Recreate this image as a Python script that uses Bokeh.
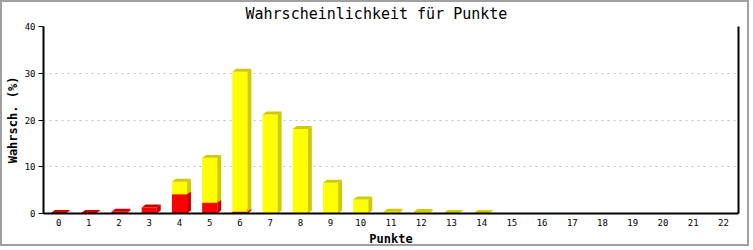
from bokeh.plotting import figure
from bokeh.models import LinearAxis, FixedTicker, Range1d
from bokeh.embed import file_html
from bokeh.resources import INLINE

# ---- data ----
punkte = ["0", "1", "2", "3", "4", "5", "6", "7", "8", "9", "10", "11",
          "12", "13", "14", "15", "16", "17", "18", "19", "20", "21", "22"]
rot = [0.1, 0.1, 0.4, 1.3, 4.1, 2.3, 0.4, 0, 0, 0, 0, 0,
       0, 0, 0, 0, 0, 0, 0, 0, 0, 0, 0]
gelb = [0, 0, 0, 0, 2.7, 9.6, 29.9, 21.2, 18.1, 6.6, 3.0, 0.4,
        0.3, 0.1, 0.1, 0, 0, 0, 0, 0, 0, 0, 0]
y_ticks = [0, 10, 20, 30, 40]

title = "Wahrscheinlichkeit für Punkte"
x_label = "Punkte"
y_label = "Wahrsch. (%)"

# ---- style ----
MONO = "DejaVu Sans Mono"
BAR_W = 0.5
DX = 0.13   # 3D depth in x data units
DY = 0.64   # 3D depth in y data units
colors = [("#ff0000", "#cc0000"), ("#ffff00", "#cccc00")]

p = figure(width=749, height=246,
           x_range=Range1d(-0.5, 22.5), y_range=Range1d(0, 40),
           output_backend="svg", toolbar_location=None,
           min_border_left=41, min_border_right=13,
           min_border_top=23, min_border_bottom=34,
           title=title)
p.styles = {"border": "2px solid #a0a0a0"}
p.background_fill_color = "white"
p.border_fill_color = "white"
p.outline_line_color = None

p.title.align = "left"
p.title.offset = 202
p.title.vertical_align = "top"
p.title.text_font = MONO
p.title.text_font_size = "15px"
p.title.text_font_style = "normal"
p.title.text_color = "black"
p.title.standoff = 4

# grids
p.xgrid.grid_line_color = None
p.ygrid.ticker = FixedTicker(ticks=y_ticks)
p.ygrid.grid_line_color = "#c0c0c0"
p.ygrid.grid_line_dash = "2 4"
p.ygrid.grid_line_width = 1

# axes
xa = p.xaxis[0]
xa.ticker = FixedTicker(ticks=list(range(len(punkte))))
xa.major_label_overrides = {i: s for i, s in enumerate(punkte)}
xa.major_tick_out = 0
xa.major_tick_in = 0
xa.minor_tick_out = 0
xa.minor_tick_in = 0
xa.axis_line_color = "black"
xa.axis_line_width = 2
xa.major_label_text_font = MONO
xa.major_label_text_font_size = "9px"
xa.major_label_text_color = "black"
xa.major_label_standoff = 5
xa.axis_label = x_label
xa.axis_label_text_font = MONO
xa.axis_label_text_font_size = "12px"
xa.axis_label_text_font_style = "bold"
xa.axis_label_text_color = "black"
xa.axis_label_standoff = 3

ya = p.yaxis[0]
ya.ticker = FixedTicker(ticks=y_ticks)
ya.major_tick_out = 5
ya.major_tick_in = 0
ya.minor_tick_out = 0
ya.minor_tick_in = 0
ya.axis_line_color = "black"
ya.axis_line_width = 2
ya.major_label_text_font = MONO
ya.major_label_text_font_size = "9px"
ya.major_label_text_color = "black"
ya.major_label_standoff = 3
ya.axis_label = y_label
ya.axis_label_text_font = MONO
ya.axis_label_text_font_size = "12px"
ya.axis_label_text_font_style = "bold"
ya.axis_label_text_color = "black"
ya.axis_label_standoff = 2

ra = LinearAxis(ticker=FixedTicker(ticks=[]))
ra.major_tick_out = 0
ra.major_tick_in = 0
ra.minor_tick_out = 0
ra.minor_tick_in = 0
ra.major_label_text_font_size = "0px"
ra.axis_line_color = "black"
ra.axis_line_width = 2
p.add_layout(ra, "right")

# ---- 3D stacked bars ----
for s, series in enumerate([rot, gelb]):
    front, dark = colors[s]
    fx_l, fx_r, fb, ft = [], [], [], []
    side_xs, side_ys, top_xs, top_ys = [], [], [], []
    for i, v in enumerate(series):
        if v <= 0:
            continue
        base = rot[i] if s == 1 else 0.0
        top = base + v
        l = i - BAR_W / 2
        r = i + BAR_W / 2
        fx_l.append(l); fx_r.append(r); fb.append(base); ft.append(top)
        side_xs.append([r, r + DX, r + DX, r])
        side_ys.append([base, base + DY, top + DY, top])
        top_xs.append([l, l + DX, r + DX, r])
        top_ys.append([top, top + DY, top + DY, top])
    p.quad(left=fx_l, right=fx_r, bottom=fb, top=ft,
           fill_color=front, line_color=None)
    p.patches(xs=side_xs, ys=side_ys, fill_color=dark, line_color=None)
    p.patches(xs=top_xs, ys=top_ys, fill_color=dark, line_color=None)

open("out.html", "w").write(file_html(p, INLINE))
